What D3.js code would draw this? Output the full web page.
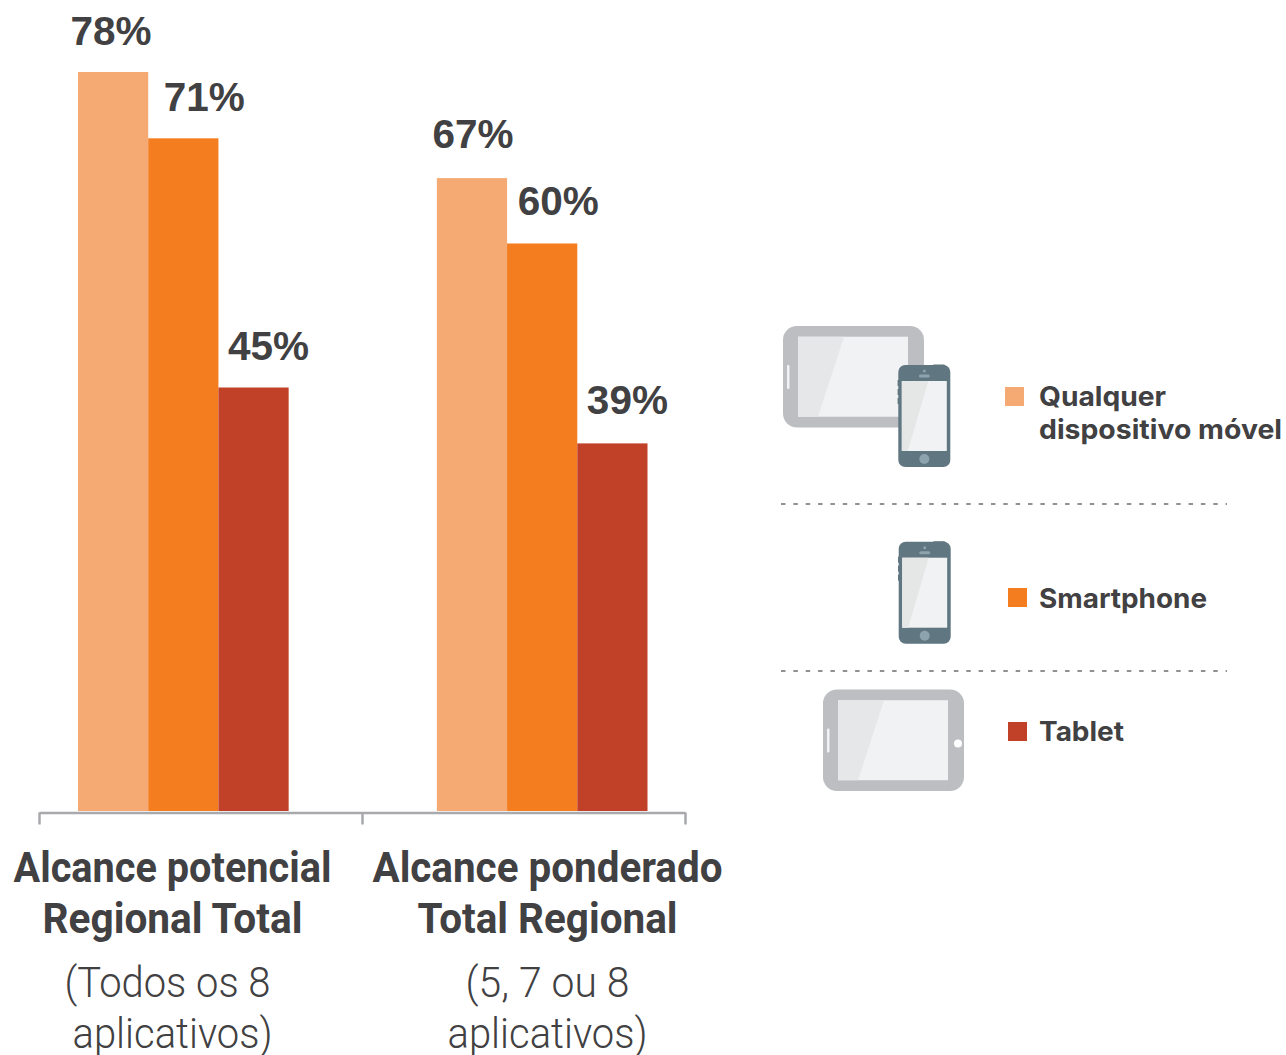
<!DOCTYPE html>
<html>
<head>
<meta charset="utf-8">
<script src="https://cdn.jsdelivr.net/npm/d3@7"></script>
<style>
  html, body { margin: 0; padding: 0; background: #fff; }
  svg { display: block; }
  .value { font-family: "Liberation Sans", sans-serif; font-weight: bold; font-size: 40.5px; fill: #414042; }
  .cat-title { font-family: "Roboto", sans-serif; font-weight: 700; font-size: 42px; fill: #414042; text-anchor: middle; }
  .cat-note { font-family: "Roboto", sans-serif; font-weight: 300; font-size: 42px; fill: #414042; text-anchor: middle; }
  .legend-label { font-family: "Inter", sans-serif; font-weight: 700; font-size: 27px; fill: #414042; }
  .axis path, .axis line { stroke: #a7a9ac; stroke-width: 2.5px; }
</style>
</head>
<body>
<svg id="chart" width="1286" height="1055"></svg>
<script>
'use strict';

var groups = ['Alcance potencial Regional Total', 'Alcance ponderado Total Regional'];
var seriesNames = ['Qualquer dispositivo móvel', 'Smartphone', 'Tablet'];
// bar heights, the printed labels are these rounded
var anyDeviceValues = [78, 66.8];
var smartphoneValues = [71, 59.9];
var tabletValues = [44.7, 38.8];
var seriesColors = ['#f5aa73', '#f47d20', '#c04127'];
var groupTitles = [['Alcance potencial', 'Regional Total'], ['Alcance ponderado', 'Total Regional']];
var groupNotes = [['(Todos os 8', 'aplicativos)'], ['(5, 7 ou 8', 'aplicativos)']];
var legendLines = [['Qualquer', 'dispositivo móvel'], ['Smartphone'], ['Tablet']];

var seriesValues = [anyDeviceValues, smartphoneValues, tabletValues];

var svg = d3.select('#chart');

var x0 = d3.scaleBand().domain(groups).range([78, 647.5]).paddingInner(0.413);
var x1 = d3.scaleBand().domain(seriesNames).range([0, x0.bandwidth()]);
var y = d3.scaleLinear().domain([0, 78]).range([811, 72]);

// the labels sit off centre of their bars, by series then by group
var labelShift = [[-2, 1], [21, 16], [15, 15]];
var labelLift = [[27, 30.5], [27, 28.5], [27, 29.5]];

groups.forEach(function (group, g) {
  seriesNames.forEach(function (name, s) {
    var value = seriesValues[s][g];
    svg.append('rect')
      .attr('x', x0(group) + x1(name))
      .attr('y', y(value))
      .attr('width', x1.bandwidth())
      .attr('height', y(0) - y(value))
      .attr('fill', seriesColors[s]);
    svg.append('text')
      .attr('class', 'value')
      .attr('x', x0(group) + x1(name) + x1.bandwidth() / 2 + labelShift[s][g])
      .attr('y', y(value) - labelLift[s][g])
      .attr('text-anchor', 'middle')
      .text(Math.round(value) + '%');
  });
});

// bracket under the bars
var axisScale = d3.scaleLinear().domain([0, groups.length]).range([39, 685]);
var axis = d3.axisBottom(axisScale)
  .tickValues(d3.range(groups.length + 1))
  .tickFormat('')
  .tickSizeInner(12)
  .tickSizeOuter(0);
svg.append('g')
  .attr('class', 'axis')
  .attr('transform', 'translate(0,812.5)')
  .call(axis);

function fitText(sel, width) {
  sel.attr('textLength', width).attr('lengthAdjust', 'spacingAndGlyphs');
}

// text widths measured on the reference
var titleWidths = [[318, 260], [350, 260]];
var noteWidths = [[206, 200], [164, 200]];
var titleCenters = [172.5, 547.5];
var noteCenters = [[167.5, 172.5], [547.5, 547.5]];
var titleBaselines = [882, 933];
var noteBaselines = [997, 1048];

groups.forEach(function (group, g) {
  groupTitles[g].forEach(function (line, i) {
    svg.append('text').attr('class', 'cat-title')
      .attr('x', titleCenters[g]).attr('y', titleBaselines[i])
      .text(line).call(fitText, titleWidths[g][i]);
  });
  groupNotes[g].forEach(function (line, i) {
    svg.append('text').attr('class', 'cat-note')
      .attr('x', noteCenters[g][i]).attr('y', noteBaselines[i])
      .text(line).call(fitText, noteWidths[g][i]);
  });
});

// legend
var legendSwatchX = [1005, 1008, 1008];
var legendSwatchY = [387, 588, 722];
var legendBaselines = [[406, 439], [608], [741]];
var legendWidths = [[127, 243], [168], [85]];

seriesNames.forEach(function (name, s) {
  svg.append('rect')
    .attr('x', legendSwatchX[s]).attr('y', legendSwatchY[s])
    .attr('width', 19).attr('height', 19)
    .attr('fill', seriesColors[s]);
  legendLines[s].forEach(function (line, i) {
    svg.append('text').attr('class', 'legend-label')
      .attr('x', 1039).attr('y', legendBaselines[s][i])
      .text(line).call(fitText, legendWidths[s][i]);
  });
});

[504, 671].forEach(function (yPos) {
  svg.append('line')
    .attr('x1', 781).attr('x2', 1227).attr('y1', yPos).attr('y2', yPos)
    .attr('stroke', '#6d6e71').attr('stroke-width', 1.3)
    .attr('stroke-dasharray', '4.5 7.85');
});

// device icons, drawn from their own top-left corner
function drawTablet(left, top, withDot) {
  var g = svg.append('g').attr('transform', 'translate(' + left + ',' + top + ')');
  g.append('rect').attr('width', 141).attr('height', 101.5).attr('rx', 14).attr('fill', '#bcbec2');
  g.append('rect').attr('x', 15).attr('y', 10.7).attr('width', 110).attr('height', 80).attr('fill', '#f1f2f4');
  g.append('path').attr('d', 'M15,10.7H61L35,90.7H15Z').attr('fill', '#e6e7e9');
  g.append('rect').attr('x', 4).attr('y', 39).attr('width', 2.5).attr('height', 24).attr('rx', 1).attr('fill', '#f1f2f4');
  if (withDot) {
    g.append('circle').attr('cx', 135).attr('cy', 54).attr('r', 4).attr('fill', '#fff');
  }
}

function drawPhone(left, top) {
  var g = svg.append('g').attr('transform', 'translate(' + left + ',' + top + ')');
  g.append('rect').attr('x', 34).attr('y', -0.5).attr('width', 13).attr('height', 3).attr('rx', 1.5).attr('fill', '#607680');
  [15, 24, 33].forEach(function (bumpY) {
    g.append('rect').attr('x', -0.7).attr('y', bumpY).attr('width', 2).attr('height', 6).attr('fill', '#607680');
  });
  g.append('rect').attr('width', 52).attr('height', 102).attr('rx', 7).attr('fill', '#607680');
  g.append('rect').attr('x', 3.5).attr('y', 16).attr('width', 45).attr('height', 70).attr('fill', '#f1f2f4');
  g.append('path').attr('d', 'M3.5,16H30L9.5,86H3.5Z').attr('fill', '#e5e7e7');
  g.append('circle').attr('cx', 26).attr('cy', 94).attr('r', 5).attr('fill', '#8da3ae');
  g.append('circle').attr('cx', 26).attr('cy', 6).attr('r', 1.5).attr('fill', '#8da3ae');
  g.append('rect').attr('x', 20.5).attr('y', 9.5).attr('width', 11).attr('height', 3).attr('rx', 1.5).attr('fill', '#8da3ae');
}

drawTablet(783, 326, false);
drawPhone(898.3, 365);
drawPhone(898.7, 541.7);
drawTablet(823, 689.5, true);
</script>
</body>
</html>
